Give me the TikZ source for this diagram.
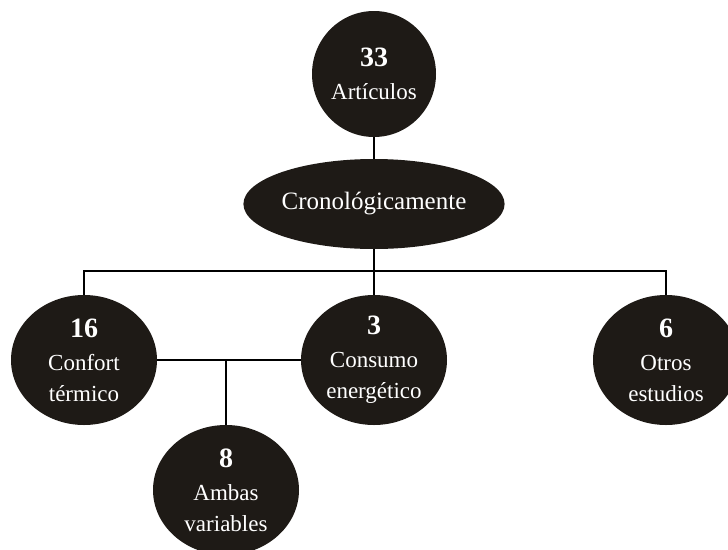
\documentclass[tikz,border=0pt]{standalone}
\usepackage{fontspec}
\setmainfont{Liberation Serif}
\usetikzlibrary{shapes.geometric}

\definecolor{nodefill}{RGB}{30,26,22}

\begin{document}
\begin{tikzpicture}[x=1pt,y=-1pt,
  main node/.style={ellipse,fill=nodefill,text=white,inner sep=0pt,align=center,
    minimum width=146pt,minimum height=130pt,font=\fontsize{23}{31}\selectfont}]

  \tikzstyle{branch} = [draw,line width=2pt,-,black]

  \clip (0,0) rectangle (728,549);

  \node[main node,minimum width=124pt,minimum height=126pt] (articulos) at (374,74)
    {\textbf{\fontsize{28}{30}\selectfont 33}\\[2pt]Artículos};
  \node[main node,minimum width=240pt,minimum height=90pt,font=\fontsize{25}{30}\selectfont]
    (crono) at (374,204) {Cronológicamente};
  \node[main node] (confort) at (84,360)
    {\textbf{\fontsize{28}{30}\selectfont 16}\\[2pt]Confort\\térmico};
  \node[main node] (consumo) at (374,360)
    {\textbf{\fontsize{28}{30}\selectfont 3}\\[2pt]Consumo\\energético};
  \node[main node] (otros) at (666,360)
    {\textbf{\fontsize{28}{30}\selectfont 6}\\[2pt]Otros\\estudios};
  \node[main node] (ambas) at (226,490)
    {\textbf{\fontsize{28}{30}\selectfont 8}\\[2pt]Ambas\\variables};

  \coordinate (hub) at (374,271);
  \coordinate (join) at (226,360);

  \path[branch]
    (articulos) -- (crono)
    (crono) -- (hub)
    (hub) -| (confort) % left branch
    (hub) -- (consumo)
    (hub) -| (otros) % right branch
    (confort) -- (consumo)
    (join) -- (ambas);
\end{tikzpicture}
\end{document}
